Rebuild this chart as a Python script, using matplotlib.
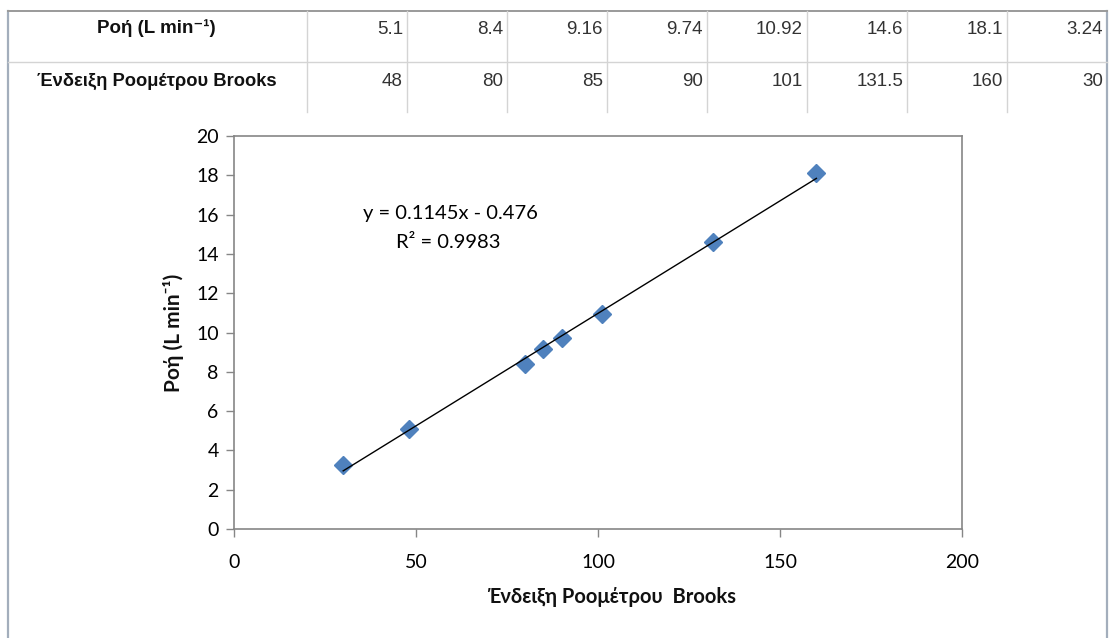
import numpy as np
import matplotlib
matplotlib.use("Agg")
import matplotlib.pyplot as plt
from matplotlib.lines import Line2D

flow = [5.1, 8.4, 9.16, 9.74, 10.92, 14.6, 18.1, 3.24]
reading = [48, 80, 85, 90, 101, 131.5, 160, 30]
flow_labels = ["5.1", "8.4", "9.16", "9.74", "10.92", "14.6", "18.1", "3.24"]
reading_labels = ["48", "80", "85", "90", "101", "131.5", "160", "30"]
row_names = ["Ροή (L min⁻¹)", "Ένδειξη Ροομέτρου Brooks"]

# trendline as printed on the chart
slope = 0.1145
intercept = -0.476
r2 = 0.9983

x_ticks = [0, 50, 100, 150, 200]
y_ticks = [0, 2, 4, 6, 8, 10, 12, 14, 16, 18, 20]

W, H = 1111, 638
CHART_FONT = ["Lato", "Open Sans", "DejaVu Sans"]
TABLE_FONT = ["Liberation Sans", "DejaVu Sans"]


def main():
    fig = plt.figure(figsize=(W / 100, H / 100), dpi=100)
    fig.patch.set_facecolor("white")

    # background axes in pixel coords, used for the table and the chart frame
    bg = fig.add_axes([0, 0, 1, 1])
    bg.set_xlim(0, W)
    bg.set_ylim(H, 0)
    bg.axis("off")

    # chart frame (left/right border)
    frame_col = "#a3aebc"
    bg.add_line(Line2D([8, 8], [11, H], color=frame_col, lw=1.6))
    bg.add_line(Line2D([1107, 1107], [11, H], color=frame_col, lw=1.6))

    # table
    grid_col = "#d4d4d4"
    bg.add_line(Line2D([8, 1107], [11, 11], color="#9a9a9a", lw=1.4))
    bg.add_line(Line2D([8, 1107], [62, 62], color=grid_col, lw=1.0))
    first_w = 307
    cell_w = 100
    for i in range(len(flow)):
        xl = first_w + i * cell_w
        bg.add_line(Line2D([xl, xl], [11, 112], color=grid_col, lw=1.0))

    bg.text(156, 28, row_names[0], ha="center", va="center", fontsize=13.5,
            fontweight="bold", family=TABLE_FONT, color="#111111")
    bg.text(157, 81, row_names[1], ha="center", va="center", fontsize=13.2,
            fontweight="bold", family=TABLE_FONT, color="#111111")
    for i, (f, r) in enumerate(zip(flow_labels, reading_labels)):
        xr = first_w + (i + 1) * cell_w - 4
        bg.text(xr, 29, f, ha="right", va="center", fontsize=13.5,
                family=TABLE_FONT, color="#333333")
        bg.text(xr, 81, r, ha="right", va="center", fontsize=13.5,
                family=TABLE_FONT, color="#333333")

    # scatter chart
    left = 234 / W
    right = 962 / W
    bottom = (H - 529) / H
    top = (H - 136) / H
    ax = fig.add_axes([left, bottom, right - left, top - bottom])
    ax.set_facecolor("none")

    ax.plot(reading, flow, linestyle="none", marker="D", markersize=9,
            color="#4f81bd", markeredgecolor="#4f81bd", zorder=3)

    xs = np.array([min(reading), max(reading)])
    ax.plot(xs, slope * xs + intercept, color="black", lw=1.0, zorder=4)

    ax.set_xlim(0, 200)
    ax.set_ylim(0, 20)
    ax.set_xticks(x_ticks)
    ax.set_yticks(y_ticks)
    ax.set_xticklabels([str(v) for v in x_ticks], family=CHART_FONT, fontsize=14)
    ax.set_yticklabels([str(v) for v in y_ticks], family=CHART_FONT, fontsize=14)
    ax.tick_params(axis="both", direction="out", length=6, width=1.0,
                   color="#868686", labelcolor="#000000")
    ax.tick_params(axis="x", pad=12)
    ax.tick_params(axis="y", pad=5)
    for s in ax.spines.values():
        s.set_color("#868686")
        s.set_linewidth(1.2)

    ax.set_xlabel("Ένδειξη Ροομέτρου  Brooks", family=CHART_FONT, fontsize=14.5,
                  fontweight="bold", color="#111111")
    # label sits a bit right of the axis centre in the original
    ax.xaxis.set_label_coords(0.519, -0.148)
    ax.set_ylabel("Ροή (L min⁻¹)", family=CHART_FONT, fontsize=15,
                  fontweight="bold", color="#111111", labelpad=9)

    # trendline label
    bg.text(450, 214, f"y = {slope}x - {abs(intercept)}", ha="center", va="center",
            family=CHART_FONT, fontsize=14.5, color="#000000")
    bg.text(448, 243, f"R² = {r2}", ha="center", va="center",
            family=CHART_FONT, fontsize=14.5, color="#000000")

    fig.savefig("out.png", dpi=100)


if __name__ == "__main__":
    main()
